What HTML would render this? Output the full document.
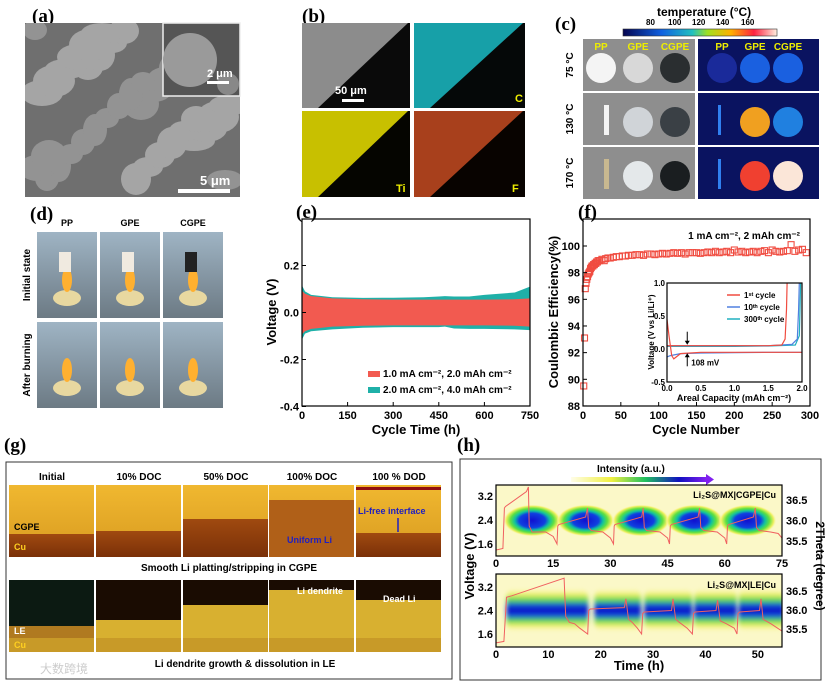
<!DOCTYPE html>
<html><head><meta charset="utf-8">
<style>
html,body{margin:0;padding:0;background:#fff;width:825px;height:685px;overflow:hidden}
svg{display:block;font-family:"Liberation Sans","Noto Sans CJK SC",sans-serif}
.pl{font-family:"Liberation Serif",serif;font-weight:bold;font-size:19px}
.tk{font-size:11px;font-weight:bold}
.tt{font-size:13px;font-weight:bold}
</style></head>
<body>
<svg id="fig" width="825" height="685" viewBox="0 0 825 685">
<defs>
<linearGradient id="cbar" x1="0" x2="1"><stop offset="0" stop-color="#050550"/><stop offset="0.25" stop-color="#1060e0"/><stop offset="0.45" stop-color="#20c0c0"/><stop offset="0.55" stop-color="#a0e020"/><stop offset="0.7" stop-color="#ffb000"/><stop offset="0.85" stop-color="#ff2040"/><stop offset="1" stop-color="#fff0e0"/></linearGradient>
<linearGradient id="ibar" x1="0" x2="1"><stop offset="0" stop-color="#fffde8"/><stop offset="0.3" stop-color="#f0f040"/><stop offset="0.55" stop-color="#20c060"/><stop offset="0.8" stop-color="#1010c0"/><stop offset="1" stop-color="#8020f0"/></linearGradient>
<radialGradient id="blob"><stop offset="0" stop-color="#1010d0"/><stop offset="0.45" stop-color="#1040e0"/><stop offset="0.6" stop-color="#10c0a0"/><stop offset="0.75" stop-color="#60e040"/><stop offset="0.9" stop-color="#f0f060"/><stop offset="1" stop-color="#fbf8c8" stop-opacity="0"/></radialGradient>
<linearGradient id="band" x1="0" y1="0" x2="0" y2="1"><stop offset="0" stop-color="#fbf8c8" stop-opacity="0"/><stop offset="0.15" stop-color="#f0f060"/><stop offset="0.3" stop-color="#40d060"/><stop offset="0.4" stop-color="#1040e0"/><stop offset="0.5" stop-color="#1010c0"/><stop offset="0.62" stop-color="#1040e0"/><stop offset="0.72" stop-color="#40d060"/><stop offset="0.85" stop-color="#f0f060"/><stop offset="1" stop-color="#fbf8c8" stop-opacity="0"/></linearGradient>
<linearGradient id="gold" x1="0" y1="0" x2="0" y2="1"><stop offset="0" stop-color="#f0b830"/><stop offset="1" stop-color="#d89a20"/></linearGradient>
<linearGradient id="cu" x1="0" y1="0" x2="0" y2="1"><stop offset="0" stop-color="#a04a10"/><stop offset="1" stop-color="#7a3008"/></linearGradient>
<linearGradient id="sky" x1="0" y1="0" x2="0" y2="1"><stop offset="0" stop-color="#9fb4c4"/><stop offset="1" stop-color="#6c7a84"/></linearGradient>
<filter id="blur"><feGaussianBlur stdDeviation="2.5"/></filter>
<clipPath id="clipH1"><rect x="496" y="485" width="286" height="71"/></clipPath>
<clipPath id="clipH2"><rect x="496" y="574" width="286" height="73"/></clipPath>
<clipPath id="clipA"><rect x="25" y="23" width="215" height="174"/></clipPath>
</defs>

<!-- (a) -->
<text class="pl" x="32" y="22">(a)</text>
<g>
<rect x="25" y="23" width="215" height="174" fill="#6f6f6f"/>
<g id="semBlobs" clip-path="url(#clipA)"></g>
<rect x="163" y="23" width="77" height="73" fill="#555" stroke="#eee" stroke-width="1.5"/>
<circle cx="190" cy="60" r="27" fill="#9a9a9a"/><circle cx="228" cy="84" r="11" fill="#888"/>
<text x="207" y="77" fill="#fff" font-size="11" font-weight="bold">2 μm</text>
<rect x="207" y="81" width="22" height="3" fill="#fff"/>
<text x="200" y="185" fill="#fff" font-size="13" font-weight="bold">5 μm</text>
<rect x="178" y="189" width="52" height="4" fill="#fff"/>
</g>

<!-- (b) -->
<text class="pl" x="302" y="22">(b)</text>
<g>
<rect x="302" y="23" width="108" height="85" fill="#0a0a0a"/><polygon points="302,23 408,23 318,108 302,108" fill="#8c8c8c"/>
<text x="335" y="94" fill="#fff" font-size="11" font-weight="bold">50 μm</text><rect x="342" y="99" width="22" height="3" fill="#fff"/>
<rect x="414" y="23" width="111" height="85" fill="#050808"/><polygon points="414,23 523,23 430,108 414,108" fill="#17a0a8"/>
<text x="515" y="102" fill="#ee0" font-size="11" font-weight="bold">C</text>
<rect x="302" y="111" width="108" height="86" fill="#050500"/><polygon points="302,111 408,111 318,197 302,197" fill="#c8c000"/>
<text x="396" y="192" fill="#ee0" font-size="11" font-weight="bold">Ti</text>
<rect x="414" y="111" width="111" height="86" fill="#080300"/><polygon points="414,111 523,111 430,197 414,197" fill="#a8401c"/>
<text x="512" y="192" fill="#ee0" font-size="11" font-weight="bold">F</text>
</g>

<!-- (c) -->
<text class="pl" x="555" y="30">(c)</text>
<text x="657" y="16" font-size="12" font-weight="bold">temperature (°C)</text>
<g font-size="8" font-weight="bold"><text x="646" y="25">80</text><text x="668" y="25">100</text><text x="692" y="25">120</text><text x="716" y="25">140</text><text x="741" y="25">160</text></g>
<rect x="623" y="29" width="154" height="7" fill="url(#cbar)" stroke="#333" stroke-width="0.6"/>
<g id="thermal"></g>

<!-- (d) -->
<text class="pl" x="30" y="220">(d)</text>
<g id="burn"></g>

<!-- (e) -->
<text class="pl" x="296" y="218">(e)</text>
<g id="chartE"></g>
<!-- (f) -->
<text class="pl" x="578" y="218">(f)</text>
<g id="chartF"></g>

<!-- (g) -->
<text class="pl" x="4" y="451">(g)</text>
<rect x="6" y="462" width="446" height="217" fill="#fff" stroke="#333" stroke-width="1"/>
<g id="optical"></g>

<!-- (h) -->
<text class="pl" x="457" y="451">(h)</text>
<rect x="460" y="459" width="361" height="221" fill="#fff" stroke="#333" stroke-width="1"/>
<g id="chartH"></g>
</svg>

<script>
// ---------- chart data ----------
// (e) voltage envelopes
const eTime = [0, 2, 10, 30, 100, 200, 300, 400, 450, 470, 500, 550, 600, 700, 750];
const eTealUp = [0.15, 0.11, 0.09, 0.075, 0.065, 0.062, 0.063, 0.065, 0.068, 0.07, 0.068, 0.068, 0.075, 0.085, 0.11];
const eTealLo = [-0.14, -0.11, -0.09, -0.08, -0.072, -0.065, -0.062, -0.062, -0.062, -0.06, -0.068, -0.07, -0.07, -0.072, -0.075];
const eRedUp = [0.1, 0.09, 0.08, 0.07, 0.06, 0.056, 0.055, 0.055, 0.055, 0.055, 0.055, 0.055, 0.055, 0.056, 0.06];
const eRedLo = [-0.1, -0.09, -0.08, -0.07, -0.06, -0.056, -0.055, -0.055, -0.055, -0.055, -0.055, -0.055, -0.055, -0.056, -0.06];
const eXTicks = [0, 150, 300, 450, 600, 750];
const eYTicks = [-0.4, -0.2, 0.0, 0.2];
// (f) coulombic efficiency
const fCycles = [1,2,3,4,5,6,7,8,9,10,11,12,13,14,15,16,17,18,19,20,22,25,28,30,33,36,40,44,48,52,56,60,65,70,75,80,85,90,95,100,105,110,115,120,125,130,135,140,145,150,155,160,165,170,175,180,185,190,195,200,205,210,215,220,225,230,235,240,245,250,255,260,265,270,275,280,285,290,295];
const fCE = [89.5,93.1,96.8,97.2,97.5,97.7,97.9,98.0,98.1,98.3,98.4,98.5,98.5,98.6,98.6,98.7,98.7,98.8,98.8,98.9,98.9,99.0,98.9,99.05,99.1,99.1,99.15,99.2,99.2,99.25,99.25,99.3,99.3,99.35,99.35,99.3,99.4,99.4,99.35,99.4,99.45,99.4,99.45,99.5,99.45,99.5,99.4,99.5,99.5,99.5,99.45,99.5,99.55,99.5,99.6,99.5,99.55,99.6,99.5,99.7,99.55,99.6,99.5,99.55,99.6,99.5,99.6,99.65,99.5,99.7,99.6,99.55,99.6,99.65,100.1,99.6,99.7,99.75,99.5];
const fXTicks = [0, 50, 100, 150, 200, 250, 300];
const fYTicks = [88, 90, 92, 94, 96, 98, 100];
// inset voltage profiles
const inRedPlateX = [0, 0.03, 0.07, 0.1, 0.2, 0.5, 1.0, 1.5, 2.0];
const inRedPlateY = [0.45, 0.2, -0.1, -0.15, -0.07, -0.05, -0.05, -0.05, -0.05];
const inRedStripX = [0, 0.5, 1.0, 1.5, 1.7, 1.75, 1.77, 1.78];
const inRedStripY = [0.05, 0.05, 0.05, 0.05, 0.06, 0.15, 0.6, 1.0];
const inBluePlateX = [0, 0.05, 0.2, 0.5, 1.0, 1.5, 2.0];
const inBluePlateY = [-0.12, -0.1, -0.07, -0.06, -0.055, -0.05, -0.05];
const inBlueStripX = [0, 0.5, 1.0, 1.5, 1.85, 1.93, 1.95, 1.96];
const inBlueStripY = [0.05, 0.05, 0.05, 0.05, 0.07, 0.15, 0.6, 1.0];
const inTealStripX = [0, 0.5, 1.0, 1.5, 1.9, 1.96, 1.97, 1.98];
const inTealStripY = [0.04, 0.04, 0.04, 0.045, 0.06, 0.2, 0.6, 1.0];
const inXTicks = [0.0, 0.5, 1.0, 1.5, 2.0];
const inYTicks = [-0.5, 0.0, 0.5, 1.0];
// (h) in-situ XRD
const hTopPeaks = [9.5, 23.5, 38, 52, 66];
const hTopTime = [0,1.8,2.2,2.5,8,8.5,8.7,9.5,13,15,16,16.2,16.5,23.5,24,24.3,25,28,30,30.8,31,31.2,38.2,38.6,38.9,39.5,43,45,45.5,45.7,46,53,53.4,53.7,54.5,58,60,60.5,60.7,61,67.5,68,68.3,69,72,74,75];
const hTopV = [1.4,1.45,2.8,2.85,3.35,3.5,2.2,2.0,2.0,1.85,1.6,2.2,2.25,2.5,2.8,2.15,2.05,2.0,1.8,1.6,2.2,2.25,2.5,2.8,2.15,2.05,2.0,1.8,1.6,2.2,2.25,2.5,2.8,2.15,2.05,2.0,1.8,1.6,2.2,2.25,2.5,2.8,2.15,2.05,2.0,1.95,1.8];
const hBotSegStart = [2, 18.8, 28.3, 37.8, 46.3];
const hBotSegEnd = [17.6, 27.7, 37.5, 46, 55];
const hBotTime = [0,1.5,2,3,13,13.3,14,15,16,17.5,17.7,18,24.5,24.8,25.3,26,27,27.8,28,28.3,33.5,33.8,34.3,35,36.5,37.5,37.7,38,42,42.3,42.8,44,45.5,46,46.2,46.5,50.3,50.6,51,52.5,54.6];
const hBotV = [1.3,1.35,2.85,2.9,3.5,2.2,2.0,1.95,1.8,1.6,2.4,2.45,2.5,2.8,2.1,2.0,1.8,1.6,2.3,2.35,2.4,2.8,2.1,2.0,1.8,1.6,2.3,2.35,2.4,2.75,2.05,1.95,1.8,1.6,2.3,2.35,2.4,2.8,2.1,1.95,1.7];
const hTopXTicks = [0, 15, 30, 45, 60, 75];
const hBotXTicks = [0, 10, 20, 30, 40, 50];
const hVTicks = [1.6, 2.4, 3.2];
const hThetaTicks = [35.5, 36.0, 36.5];

const NS = 'http://www.w3.org/2000/svg';
function mk(parent, tag, attrs, txt) {
  const el = document.createElementNS(NS, tag);
  for (const k in attrs) el.setAttribute(k, attrs[k]);
  if (txt !== undefined) el.textContent = txt;
  parent.appendChild(el);
  return el;
}
function poly(xs, ys, fx, fy) { return xs.map((x, i) => fx(x).toFixed(1) + ',' + fy(ys[i]).toFixed(1)).join(' '); }

// ---------- decorative photos ----------
(function () {
  const g = document.getElementById('semBlobs');
  for (let i = 0; i < 40; i++) {
    const cx = 35 + ((i * 53) % 200), cy = 30 + ((i * 37) % 160);
    const c = mk(g, 'ellipse', { cx: cx, cy: cy, rx: 12 + (i % 4) * 3, ry: 10 + (i % 3) * 3, fill: i % 2 ? '#a5a5a5' : '#939393' });
    
    
  }
  const th = document.getElementById('thermal');
  const rows = [39, 93, 147], rowsH = 52, temps = ['75 °C', '130 °C', '170 °C'];
  const rightFills = [['#1a2a9a', '#1a60e0', '#1a60e0'], ['#2040d0', '#f0a020', '#2080e0'], ['#40a0e0', '#f04030', '#fbe6d8']];
  const leftFills = [['#f4f4f4', '#d8d8d8', '#2a2e30'], ['#f4f4f4', '#d0d4d8', '#3a4045'], ['#c8b890', '#e4e8ea', '#1a1e20']];
  const lx = [601, 638, 675], rx = [722, 755, 788];
  rows.forEach((y, r) => {
    mk(th, 'rect', { x: 583, y: y, width: 112, height: rowsH, fill: '#8e8e8e' });
    mk(th, 'rect', { x: 698, y: y, width: 121, height: rowsH, fill: '#0a1360' });
    const t = mk(th, 'text', { x: 573, y: y + 26, 'font-size': 10, 'font-weight': 'bold', transform: 'rotate(-90 573 ' + (y + 26) + ')', 'text-anchor': 'middle' }, temps[r]);
    
    
    for (let k = 0; k < 3; k++) {
      if (!(r > 0 && k === 0)) {
        mk(th, 'circle', { cx: lx[k], cy: y + 29, r: 15, fill: leftFills[r][k] });
        mk(th, 'circle', { cx: rx[k], cy: y + 29, r: 15, fill: rightFills[r][k] });
      }
    }
    if (r > 0) { mk(th, 'rect', { x: 604, y: y + 12, width: 5, height: 30, fill: r === 1 ? '#f4f4f4' : '#c8b890' }); mk(th, 'rect', { x: 718, y: y + 12, width: 3, height: 30, fill: '#3080f0' }); }
  });
  ['PP', 'GPE', 'CGPE'].forEach((s, k) => {
    mk(th, 'text', { x: lx[k], y: 50, 'font-size': 10, 'font-weight': 'bold', fill: '#ee0', 'text-anchor': 'middle' }, s);
    mk(th, 'text', { x: rx[k], y: 50, 'font-size': 10, 'font-weight': 'bold', fill: '#ee0', 'text-anchor': 'middle' }, s);
  });

  const b = document.getElementById('burn');
  ['PP', 'GPE', 'CGPE'].forEach((s, k) => {
    const x = 37 + k * 63;
    mk(b, 'text', { x: x + 30, y: 226, 'font-size': 9, 'font-weight': 'bold', 'text-anchor': 'middle' }, s);
    [232, 322].forEach((y, r) => {
      mk(b, 'rect', { x: x, y: y, width: 60, height: 86, fill: 'url(#sky)' });
      mk(b, 'ellipse', { cx: x + 30, cy: y + 66, rx: 14, ry: 8, fill: '#e8d8a0' });
      mk(b, 'ellipse', { cx: x + 30, cy: y + 48, rx: 5, ry: 12, fill: '#ffb030' });
      if (r === 0) mk(b, 'rect', { x: x + 22, y: y + 20, width: 12, height: 20, fill: k === 2 ? '#222' : '#f0eae0' });
    });
  });
  [['Initial state', 275], ['After burning', 365]].forEach(([s, y]) => {
    const t = mk(b, 'text', { x: 30, y: y, 'font-size': 10, 'font-weight': 'bold', transform: 'rotate(-90 30 ' + y + ')', 'text-anchor': 'middle' }, s);
    
    
  });

  const o = document.getElementById('optical');
  const heads = ['Initial', '10% DOC', '50% DOC', '100% DOC', '100 % DOD'];
  const cols = [9, 96, 183, 269, 356];
  cols.forEach((x, k) => {
    mk(o, 'text', { x: x + 43, y: 480, 'font-size': 10, 'font-weight': 'bold', 'text-anchor': 'middle' }, heads[k]);
    mk(o, 'rect', { x: x, y: 485, width: 85, height: 72, fill: 'url(#gold)' });
    const cuY = [534, 531, 519, 500, 533][k];
    mk(o, 'rect', { x: x, y: cuY, width: 85, height: 557 - cuY, fill: k === 3 ? '#b06018' : 'url(#cu)' });
    mk(o, 'rect', { x: x, y: 580, width: 85, height: 72, fill: k === 0 ? '#0c1a12' : '#1a0c02' });
    const dY = [626, 620, 605, 590, 600][k];
    mk(o, 'rect', { x: x, y: dY, width: 85, height: 652 - dY, fill: k === 0 ? '#b07a20' : '#d8b030' });
    mk(o, 'rect', { x: x, y: 638, width: 85, height: 14, fill: '#c89a28' });
  });
  mk(o, 'rect', { x: 356, y: 487, width: 85, height: 3, fill: '#901010' });
  mk(o, 'text', { x: 14, y: 530, 'font-size': 9, 'font-weight': 'bold' }, 'CGPE');
  mk(o, 'text', { x: 14, y: 550, 'font-size': 9, 'font-weight': 'bold', fill: '#ffd020' }, 'Cu');
  mk(o, 'text', { x: 287, y: 543, 'font-size': 9, 'font-weight': 'bold', fill: '#2020c0' }, 'Uniform Li');
  mk(o, 'text', { x: 358, y: 514, 'font-size': 9, 'font-weight': 'bold', fill: '#2020c0' }, 'Li-free interface');
  mk(o, 'line', { x1: 398, y1: 518, x2: 398, y2: 532, stroke: '#2020c0', 'stroke-width': 1.5 });
  mk(o, 'text', { x: 229, y: 571, 'font-size': 10, 'font-weight': 'bold', 'text-anchor': 'middle' }, 'Smooth Li platting/stripping in CGPE');
  mk(o, 'text', { x: 14, y: 634, 'font-size': 9, 'font-weight': 'bold', fill: '#fff' }, 'LE');
  mk(o, 'text', { x: 14, y: 648, 'font-size': 9, 'font-weight': 'bold', fill: '#ffd020' }, 'Cu');
  mk(o, 'text', { x: 297, y: 594, 'font-size': 9, 'font-weight': 'bold', fill: '#fff' }, 'Li dendrite');
  mk(o, 'text', { x: 383, y: 602, 'font-size': 9, 'font-weight': 'bold', fill: '#fff' }, 'Dead Li');
  mk(o, 'text', { x: 245, y: 667, 'font-size': 10, 'font-weight': 'bold', 'text-anchor': 'middle' }, 'Li dendrite growth & dissolution in LE');
  mk(o, 'text', { x: 40, y: 673, 'font-size': 12, fill: '#ccc', 'font-family': '"WenQuanYi Zen Hei",sans-serif' }, '大数跨境');
})();

// ---------- axis helper ----------
function frame(g, x0, y0, x1, y1) { mk(g, 'rect', { x: x0, y: y0, width: x1 - x0, height: y1 - y0, fill: 'none', stroke: '#000', 'stroke-width': 1.2 }); }

// ---------- (e) ----------
(function () {
  const g = document.getElementById('chartE');
  const X0 = 302, X1 = 530, Y0 = 219, Y1 = 406;
  const fx = t => X0 + t / 750 * (X1 - X0);
  const fy = v => 312.5 - v * 235;
  const teal = mk(g, 'polygon', { points: poly(eTime, eTealUp, fx, fy) + ' ' + poly(eTime.slice().reverse(), eTealLo.slice().reverse(), fx, fy), fill: '#1fb0a8' });
  
  
  const red = mk(g, 'polygon', { points: poly(eTime, eRedUp, fx, fy) + ' ' + poly(eTime.slice().reverse(), eRedLo.slice().reverse(), fx, fy), fill: '#f25a50' });
  
  
  frame(g, X0, Y0, X1, Y1);
  eXTicks.forEach(t => { mk(g, 'line', { x1: fx(t), y1: Y1, x2: fx(t), y2: Y1 - 4, stroke: '#000' }); mk(g, 'text', { class: 'tk', x: fx(t), y: Y1 + 13, 'text-anchor': 'middle' }, t); });
  eYTicks.forEach(v => { mk(g, 'line', { x1: X0, y1: fy(v), x2: X0 + 4, y2: fy(v), stroke: '#000' }); mk(g, 'text', { class: 'tk', x: X0 - 3, y: fy(v) + 4, 'text-anchor': 'end' }, v.toFixed(1)); });
  const xt = mk(g, 'text', { class: 'tt', x: 416, y: 434, 'text-anchor': 'middle' }, 'Cycle Time (h)');
  
  
  const yt = mk(g, 'text', { class: 'tt', x: 276, y: 312, 'text-anchor': 'middle', transform: 'rotate(-90 276 312)' }, 'Voltage (V)');
  
  
  [['#f25a50', '1.0 mA cm⁻², 2.0 mAh cm⁻²', 377], ['#1fb0a8', '2.0 mA cm⁻², 4.0 mAh cm⁻²', 393]].forEach(([c, s, y]) => {
    const le = mk(g, 'g', {});
    
    
    mk(le, 'rect', { x: 368, y: y - 6, width: 12, height: 6, fill: c });
    mk(le, 'text', { x: 383, y: y, 'font-size': 10, 'font-weight': 'bold' }, s);
  });
})();

// ---------- (f) ----------
(function () {
  const g = document.getElementById('chartF');
  const X0 = 583, X1 = 810, Y0 = 219, Y1 = 406;
  const fx = c => X0 + c / 300 * (X1 - X0);
  const fy = v => 246 - (v - 100) * 13.33;
  fCycles.forEach((c, i) => {
    const s = mk(g, 'rect', { x: fx(c) - 3, y: fy(fCE[i]) - 3, width: 6, height: 6, fill: 'none', stroke: '#f04c40', 'stroke-width': 1.1 });
    
    
  });
  frame(g, X0, Y0, X1, Y1);
  fXTicks.forEach(t => { mk(g, 'line', { x1: fx(t), y1: Y1, x2: fx(t), y2: Y1 - 4, stroke: '#000' }); mk(g, 'text', { class: 'tk', x: fx(t), y: Y1 + 13, 'text-anchor': 'middle' }, t); });
  fYTicks.forEach(v => { mk(g, 'line', { x1: X0, y1: fy(v), x2: X0 + 4, y2: fy(v), stroke: '#000' }); mk(g, 'text', { class: 'tk', x: X0 - 3, y: fy(v) + 4, 'text-anchor': 'end' }, v); });
  mk(g, 'text', { class: 'tt', x: 696, y: 434, 'text-anchor': 'middle' }, 'Cycle Number');
  mk(g, 'text', { class: 'tt', x: 558, y: 312, 'text-anchor': 'middle', transform: 'rotate(-90 558 312)' }, 'Coulombic Efficiency(%)');
  mk(g, 'text', { x: 800, y: 239, 'font-size': 10, 'font-weight': 'bold', 'text-anchor': 'end' }, '1 mA cm⁻², 2 mAh cm⁻²');
  // inset
  const I0 = 667, I1 = 802, J0 = 283, J1 = 382;
  const ix = c => I0 + c / 2 * (I1 - I0);
  const iy = v => J0 + (1 - v) / 1.5 * (J1 - J0);
  mk(g, 'rect', { x: I0, y: J0, width: I1 - I0, height: J1 - J0, fill: '#fff' });
  [[inBluePlateX, inBluePlateY, '#5080e0'], [inTealStripX, inTealStripY, '#20b0c0'], [inBlueStripX, inBlueStripY, '#5080e0'], [inRedPlateX, inRedPlateY, '#f04c40'], [inRedStripX, inRedStripY, '#f04c40']].forEach(([xs, ys, c]) => {
    const l = mk(g, 'polyline', { points: poly(xs, ys, ix, iy), fill: 'none', stroke: c, 'stroke-width': 1.2 });
    
    
  });
  frame(g, I0, J0, I1, J1);
  inXTicks.forEach(t => mk(g, 'text', { x: ix(t), y: J1 + 9, 'font-size': 8, 'font-weight': 'bold', 'text-anchor': 'middle' }, t.toFixed(1)));
  inYTicks.forEach(v => mk(g, 'text', { x: I0 - 2, y: iy(v) + 3, 'font-size': 8, 'font-weight': 'bold', 'text-anchor': 'end' }, v.toFixed(1)));
  mk(g, 'text', { x: 734, y: 401, 'font-size': 9, 'font-weight': 'bold', 'text-anchor': 'middle' }, 'Areal Capacity (mAh cm⁻²)');
  mk(g, 'text', { x: 654, y: 332, 'font-size': 8, 'font-weight': 'bold', 'text-anchor': 'middle', transform: 'rotate(-90 654 332)' }, 'Voltage (V vs Li/Li⁺)');
  [['1ˢᵗ    cycle', '#f04c40', 298], ['10ᵗʰ  cycle', '#5080e0', 310], ['300ᵗʰ cycle', '#20b0c0', 322]].forEach(([s, c, y]) => {
    mk(g, 'line', { x1: 727, y1: y - 3, x2: 740, y2: y - 3, stroke: c, 'stroke-width': 1.5 });
    mk(g, 'text', { x: 744, y: y, 'font-size': 8, 'font-weight': 'bold' }, s);
  });
  const y0 = iy(0.05), y1 = iy(-0.05);
  mk(g, 'line', { x1: ix(0.3), y1: y0 - 14, x2: ix(0.3), y2: y0 - 3, stroke: '#000', 'stroke-width': 1 });
  mk(g, 'polygon', { points: `${ix(0.3) - 2.5},${y0 - 5} ${ix(0.3) + 2.5},${y0 - 5} ${ix(0.3)},${y0 - 1}`, fill: '#000' });
  mk(g, 'line', { x1: ix(0.3), y1: y1 + 3, x2: ix(0.3), y2: y1 + 14, stroke: '#000', 'stroke-width': 1 });
  mk(g, 'polygon', { points: `${ix(0.3) - 2.5},${y1 + 5} ${ix(0.3) + 2.5},${y1 + 5} ${ix(0.3)},${y1 + 1}`, fill: '#000' });
  mk(g, 'text', { x: ix(0.3) + 4, y: y1 + 13, 'font-size': 8, 'font-weight': 'bold' }, '108 mV');
})();

// ---------- (h) ----------
(function () {
  const g = document.getElementById('chartH');
  const X0 = 496, X1 = 782;
  mk(g, 'text', { x: 597, y: 472, 'font-size': 10, 'font-weight': 'bold' }, 'Intensity (a.u.)');
  const ib = mk(g, 'rect', { x: 571, y: 477, width: 135, height: 5, fill: 'url(#ibar)' });
  
  
  mk(g, 'polygon', { points: '706,474 714,479.5 706,485', fill: '#8020f0' });

  // top
  const t1 = t => X0 + t / 75 * (X1 - X0);
  const v1 = v => 496 + (3.2 - v) * 30;
  const th1 = d => 520.5 - (d - 36.0) * 41;
  const top = mk(g, 'g', { 'clip-path': 'url(#clipH1)' });
  mk(top, 'rect', { x: X0, y: 485, width: X1 - X0, height: 71, fill: '#fbf8c8' });
  hTopPeaks.forEach(p => {
    const e = mk(top, 'ellipse', { cx: t1(p), cy: th1(36.0), rx: 29, ry: 16, fill: 'url(#blob)' });
    
    
  });
  const l1 = mk(top, 'polyline', { points: poly(hTopTime, hTopV, t1, v1), fill: 'none', stroke: '#f06060', 'stroke-width': 1 });
  
  
  frame(g, X0, 485, X1, 556);
  mk(g, 'text', { x: 776, y: 498, 'font-size': 9, 'font-weight': 'bold', 'text-anchor': 'end' }, 'Li₂S@MX|CGPE|Cu');
  hTopXTicks.forEach(t => mk(g, 'text', { class: 'tk', x: t1(t), y: 567, 'text-anchor': 'middle' }, t));
  hVTicks.forEach(v => mk(g, 'text', { class: 'tk', x: X0 - 3, y: v1(v) + 4, 'text-anchor': 'end' }, v.toFixed(1)));
  hThetaTicks.forEach(d => mk(g, 'text', { class: 'tk', x: X1 + 4, y: th1(d) + 4 }, d.toFixed(1)));

  // bottom
  const t2 = t => X0 + t / 54.6 * (X1 - X0);
  const v2 = v => 587 + (3.2 - v) * 29.4;
  const th2 = d => 610 - (d - 36.0) * 38;
  const bot = mk(g, 'g', { 'clip-path': 'url(#clipH2)' });
  mk(bot, 'rect', { x: X0, y: 574, width: X1 - X0, height: 73, fill: '#fbf8c8' });
  hBotSegStart.forEach((s, i) => {
    const r = mk(bot, 'rect', { x: t2(s), y: th2(36.0) - 22, width: t2(hBotSegEnd[i]) - t2(s), height: 44, rx: 10, fill: 'url(#band)', filter: 'url(#blur)' });
    
    
  });
  const l2 = mk(bot, 'polyline', { points: poly(hBotTime, hBotV, t2, v2), fill: 'none', stroke: '#f06060', 'stroke-width': 1 });
  
  
  frame(g, X0, 574, X1, 647);
  mk(g, 'text', { x: 776, y: 588, 'font-size': 9, 'font-weight': 'bold', 'text-anchor': 'end' }, 'Li₂S@MX|LE|Cu');
  hBotXTicks.forEach(t => mk(g, 'text', { class: 'tk', x: t2(t), y: 658, 'text-anchor': 'middle' }, t));
  hVTicks.forEach(v => mk(g, 'text', { class: 'tk', x: X0 - 3, y: v2(v) + 4, 'text-anchor': 'end' }, v.toFixed(1)));
  hThetaTicks.forEach(d => mk(g, 'text', { class: 'tk', x: X1 + 4, y: th2(d) + 4 }, d.toFixed(1)));
  mk(g, 'text', { class: 'tt', x: 639, y: 670, 'text-anchor': 'middle' }, 'Time (h)');
  mk(g, 'text', { class: 'tt', x: 474, y: 566, 'text-anchor': 'middle', transform: 'rotate(-90 474 566)' }, 'Voltage (V)');
  mk(g, 'text', { x: 816, y: 566, 'font-size': 12, 'font-weight': 'bold', 'text-anchor': 'middle', transform: 'rotate(90 816 566)' }, '2Theta (degree)');
})();
</script>
</body></html>
